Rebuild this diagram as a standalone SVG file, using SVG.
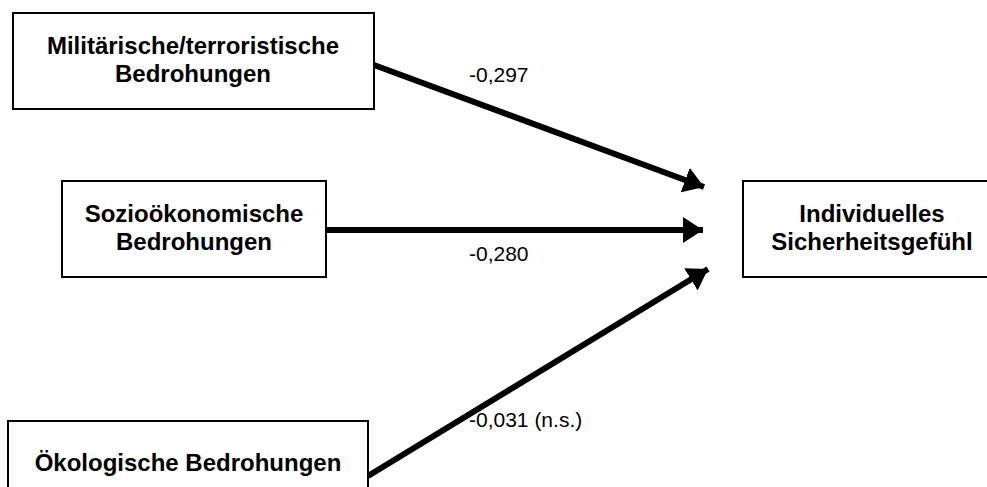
<svg xmlns="http://www.w3.org/2000/svg" width="987" height="487" viewBox="0 0 987 487">
<style>
.box{fill:#fff;stroke:#000;stroke-width:2}
.t{font-family:"Liberation Sans",Arial,sans-serif;font-weight:bold;font-size:24px;text-anchor:middle;fill:#000}
.l{font-family:"Liberation Sans",Arial,sans-serif;font-size:21px;fill:#000}
.c{stroke:#000;stroke-width:6;fill:none}
</style>
<defs>
<marker id="ah" markerUnits="userSpaceOnUse" markerWidth="26" markerHeight="28" viewBox="0 0 26 28" refX="20" refY="14" orient="auto">
<path d="M0,1 L20,14 L0,27 Z" fill="#000"/>
</marker>
</defs>
<rect width="987" height="487" fill="#fff"/>
<g id="connectors">
<line class="c" x1="374" y1="65" x2="704" y2="187" marker-end="url(#ah)"/>
<line class="c" x1="326" y1="230" x2="703" y2="230" marker-end="url(#ah)"/>
<line class="c" x1="368" y1="476" x2="708" y2="269" marker-end="url(#ah)"/>
</g>
<g id="n1">
<rect class="box" x="13" y="13" width="361" height="96"/>
<text class="t" x="193" y="54">Militärische/terroristische</text>
<text class="t" x="193" y="82">Bedrohungen</text>
</g>
<g id="n2">
<rect class="box" x="62" y="181" width="264" height="96"/>
<text class="t" x="194" y="222">Sozioökonomische</text>
<text class="t" x="194" y="250">Bedrohungen</text>
</g>
<g id="n3">
<rect class="box" x="8" y="421" width="360" height="96"/>
<text class="t" x="188" y="471">Ökologische Bedrohungen</text>
</g>
<g id="n4">
<rect class="box" x="743" y="181" width="260" height="96"/>
<text class="t" x="872" y="222">Individuelles</text>
<text class="t" x="872" y="250">Sicherheitsgefühl</text>
</g>
<g id="labels">
<text class="l" x="469" y="82">-0,297</text>
<text class="l" x="469" y="261">-0,280</text>
<text class="l" x="469" y="427">-0,031 (n.s.)</text>
</g>
</svg>
